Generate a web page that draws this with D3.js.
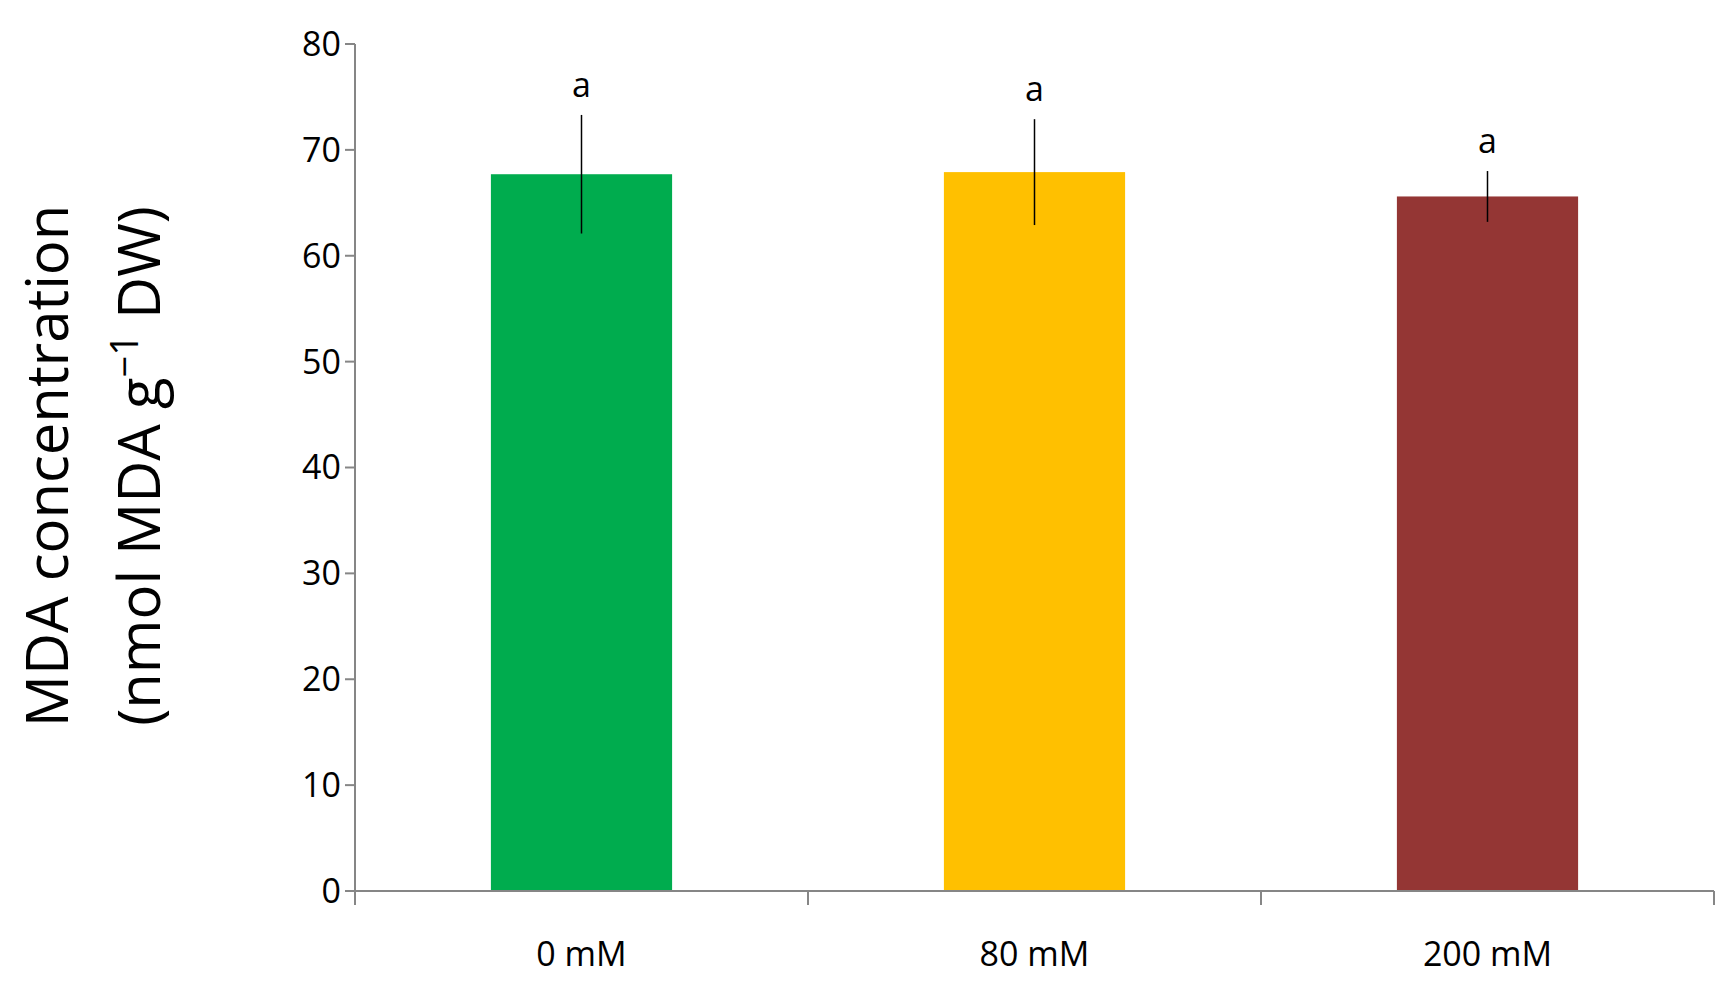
<!DOCTYPE html><html><head><meta charset="utf-8"><script src="https://cdn.jsdelivr.net/npm/d3@7"></script>
<style>body{margin:0;background:#fff}</style></head><body><svg id="c" width="1731" height="991"></svg>
<script>
const categories=["0 mM","80 mM","200 mM"];
const values=[67.7,67.9,65.6];
const errors=[5.6,5.0,2.4];
const letters=["a","a","a"];
const colors=["#00ac4e","#ffc000","#943634"];
const yTicks=[0,10,20,30,40,50,60,70,80];
const svg=d3.select("#c");
const L=355,R=1714,T=44,B=891;
const x=d3.scaleBand().domain(categories).range([L,R]).paddingInner(0.6).paddingOuter(0.3);
const xo=d3.scaleBand().domain(categories).range([L,R]);
const y=d3.scaleLinear().domain([0,80]).range([B,T]);
const font="'Open Sans',sans-serif";
// y axis
svg.append("line").attr("x1",L).attr("x2",L).attr("y1",T).attr("y2",B).attr("stroke","#868686").attr("stroke-width",2);
yTicks.forEach(t=>{
 svg.append("line").attr("x1",L-10).attr("x2",L).attr("y1",y(t)).attr("y2",y(t)).attr("stroke","#868686").attr("stroke-width",2);
 svg.append("text").attr("x",L-14).attr("y",y(t)).attr("dy","0.35em").attr("text-anchor","end").attr("font-family",font).attr("font-size",34).attr("fill","#000").text(t);
});
// bars
categories.forEach((c,i)=>{
 svg.append("rect").attr("x",x(c)).attr("width",x.bandwidth()).attr("y",y(values[i])).attr("height",B-y(values[i])).attr("fill",colors[i]);
 const cx=x(c)+x.bandwidth()/2;
 svg.append("line").attr("x1",cx).attr("x2",cx).attr("y1",y(values[i]+errors[i])).attr("y2",y(values[i]-errors[i])).attr("stroke","#000").attr("stroke-width",1.5);
 svg.append("text").attr("x",cx).attr("y",y(values[i]+errors[i])-18).attr("text-anchor","middle").attr("font-family",font).attr("font-size",34).text(letters[i]);
 svg.append("text").attr("x",cx).attr("y",B+75).attr("text-anchor","middle").attr("font-family",font).attr("font-size",34).text(c);
});
// x axis
svg.append("line").attr("x1",L).attr("x2",R).attr("y1",B).attr("y2",B).attr("stroke","#868686").attr("stroke-width",2);
categories.forEach(c=>svg.append("line").attr("x1",xo(c)).attr("x2",xo(c)).attr("y1",B).attr("y2",B+14).attr("stroke","#868686").attr("stroke-width",2));
svg.append("line").attr("x1",R).attr("x2",R).attr("y1",B).attr("y2",B+14).attr("stroke","#868686").attr("stroke-width",2);
// title
const g=svg.append("g").attr("transform","translate(0,466) rotate(-90)");
g.append("text").attr("x",0).attr("y",68).attr("text-anchor","middle").attr("font-family",font).attr("font-size",58).text("MDA concentration");
const t2=g.append("text").attr("x",0).attr("y",160).attr("text-anchor","middle").attr("font-family",font).attr("font-size",58);
t2.append("tspan").text("(nmol MDA g");
t2.append("tspan").attr("dy",-22).attr("font-size",38).text("−1");
t2.append("tspan").attr("dy",22).text(" DW)");
</script></body></html>
